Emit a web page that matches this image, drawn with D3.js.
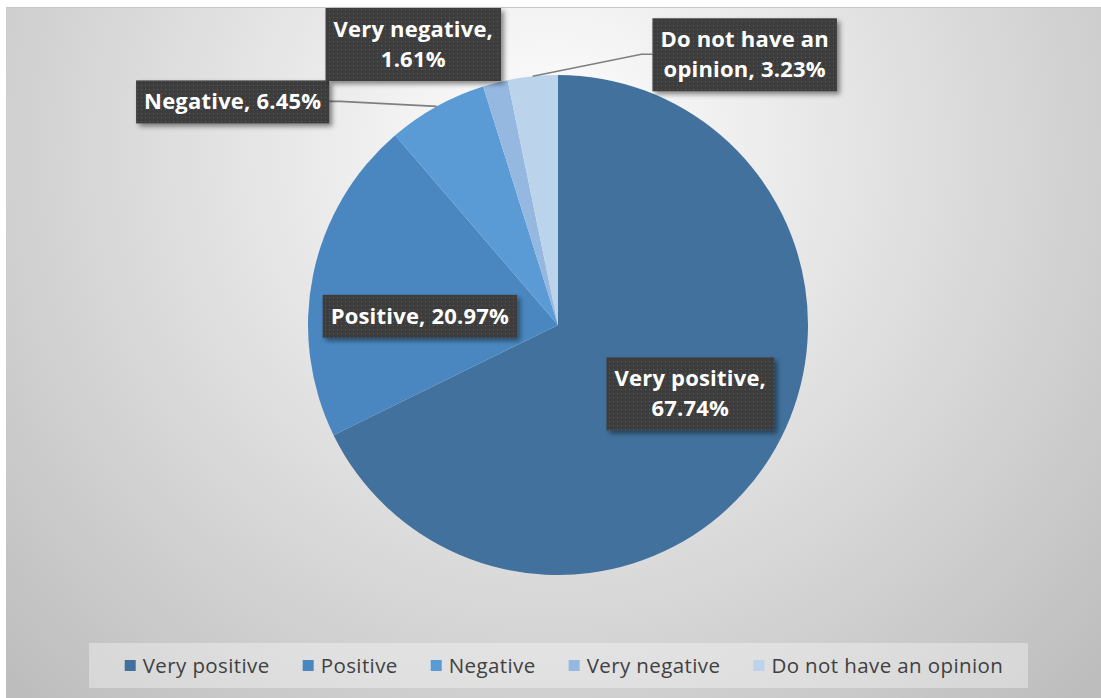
<!DOCTYPE html>
<html>
<head>
<meta charset="utf-8">
<script src="https://cdn.jsdelivr.net/npm/d3@7"></script>
<style>
  body { margin: 0; background: #ffffff; }
  svg { display: block; }
</style>
</head>
<body>
<div class="chart"></div>
<script>
//Data
var categories = ["Very positive", "Positive", "Negative", "Very negative", "Do not have an opinion"];
var values = [67.74, 20.97, 6.45, 1.61, 3.23];
var colors = ["#41719c", "#4a87c0", "#5b9bd5", "#95b8e0", "#bcd3ec"];

//Config
var width = 1101,
    height = 698,
    frame = { left : 6, top : 7 },
    cx = 558,
    cy = 325,
    radius = 250;

// label placement: radius factor of anchor, pixel nudge, wrap width
var labelLayout = [
  { lr : 0.6, dx : 5, dy : -11, wrap : 172, leader : false },
  { lr : 0.56, dx : -1, dy : 19, wrap : 280, leader : false },
  { lr : 1.0, dx : -204, dy : -5, wrap : 280, leader : true },
  { lr : 1.0, dx : -82, dy : -39, wrap : 185, leader : false },
  { lr : 1.0, dx : 212, dy : -22, wrap : 182, leader : true }
];

var svg = d3.select(".chart")
  .append("svg")
  .attr("width", width)
  .attr("height", height);

var defs = svg.append("defs");

var bg = defs.append("radialGradient")
  .attr("id", "bg")
  .attr("gradientUnits", "userSpaceOnUse")
  .attr("cx", 550).attr("cy", 150).attr("r", 760);
bg.append("stop").attr("offset", "0").attr("stop-color", "#ffffff");
bg.append("stop").attr("offset", "1").attr("stop-color", "#bdbdbd");

var dots = defs.append("pattern")
  .attr("id", "dots")
  .attr("patternUnits", "userSpaceOnUse")
  .attr("width", 4).attr("height", 4);
dots.append("rect").attr("width", 4).attr("height", 4).attr("fill", "#3d3d3d");
dots.append("rect").attr("x", 1).attr("y", 1).attr("width", 1).attr("height", 1).attr("fill", "#5c5c5c");

var shadow = defs.append("filter")
  .attr("id", "shadow")
  .attr("x", "-20%").attr("y", "-30%").attr("width", "140%").attr("height", "170%");
shadow.append("feDropShadow")
  .attr("dx", 3).attr("dy", 3).attr("stdDeviation", 2.5)
  .attr("flood-color", "#000").attr("flood-opacity", 0.45);

//Background
svg.append("rect")
  .attr("x", frame.left).attr("y", frame.top)
  .attr("width", width - frame.left).attr("height", height - frame.top)
  .attr("fill", "url(#bg)");
svg.append("line")
  .attr("x1", frame.left).attr("x2", width)
  .attr("y1", frame.top + 0.5).attr("y2", frame.top + 0.5)
  .attr("stroke", "#c8c8c8");

//Pie
var pie = d3.pie().sort(null).value(function (d) { return d; });
var arcs = pie(values);
var arc = d3.arc().innerRadius(0).outerRadius(radius);

var gpie = svg.append("g").attr("transform", "translate(" + cx + "," + cy + ")");

gpie.selectAll(".slice")
  .data(arcs)
  .enter()
  .append("path")
  .classed("slice", true)
  .attr("d", arc)
  .attr("fill", function (d, i) { return colors[i]; });

function polar(angle, r) {
  return [Math.sin(angle) * r, -Math.cos(angle) * r];
}

//Labels
var glabels = svg.append("g");

arcs.forEach(function (d, i) {
  var lay = labelLayout[i];
  var mid = (d.startAngle + d.endAngle) / 2;
  var p = polar(mid, radius * lay.lr);
  var lx = cx + p[0] + lay.dx,
      ly = cy + p[1] + lay.dy;

  var text = categories[i] + ", " + d3.format(".2f")(values[i]) + "%";

  var g = glabels.append("g");
  var box = g.append("rect")
    .attr("fill", "url(#dots)")
    .attr("filter", "url(#shadow)");

  var t = g.append("text")
    .attr("text-anchor", "middle")
    .style("font-family", "'Open Sans', sans-serif")
    .style("font-weight", "bold")
    .style("font-size", "22px")
    .style("letter-spacing", "0.2px")
    .attr("fill", "#ffffff");

  // simple word wrap
  var words = text.split(" "), lines = [], line = "";
  words.forEach(function (w) {
    var test = line ? line + " " + w : w;
    t.text(test);
    if (line && t.node().getComputedTextLength() > lay.wrap) {
      lines.push(line);
      line = w;
    } else {
      line = test;
    }
  });
  lines.push(line);
  t.text(null);

  var lh = 30;
  lines.forEach(function (l, k) {
    t.append("tspan")
      .attr("x", lx)
      .attr("y", ly + (k - (lines.length - 1) / 2) * lh + 8)
      .text(l);
  });

  var bb = t.node().getBBox();
  var padX = 8, padY = 7;
  box.attr("x", bb.x - padX)
    .attr("y", ly - (lines.length * lh) / 2 - padY + 1)
    .attr("width", bb.width + padX * 2)
    .attr("height", lines.length * lh + padY * 2 - 1);

  if (lay.leader) {
    var a = polar(mid, radius);
    var ax = cx + a[0], ay = cy + a[1];
    var bx = +box.attr("x"), bw = +box.attr("width");
    var edge = lx > ax ? bx : bx + bw;
    var elbow = lx > ax ? edge - 11 : edge + 11;
    glabels.insert("path", ":first-child")
      .attr("d", "M" + ax + "," + ay + "L" + elbow + "," + ly + "L" + edge + "," + ly)
      .attr("fill", "none")
      .attr("stroke", "#7f7f7f")
      .attr("stroke-width", 1.6);
  }
});

//Legend
var legend = svg.append("g");
legend.append("rect")
  .attr("x", 89).attr("y", 643)
  .attr("width", 939).attr("height", 45)
  .attr("fill", "#ffffff")
  .attr("fill-opacity", 0.35);

var items = legend.selectAll(".item")
  .data(categories)
  .enter()
  .append("g")
  .classed("item", true);

items.append("rect")
  .attr("width", 11).attr("height", 11)
  .attr("y", 660)
  .attr("fill", function (d, i) { return colors[i]; });

items.append("text")
  .attr("y", 673)
  .style("font-family", "'Open Sans', sans-serif")
  .style("font-size", "20.5px")
  .style("letter-spacing", "0.4px")
  .attr("fill", "#404040")
  .text(function (d) { return d; });

var widths = [];
items.select("text").each(function () { widths.push(this.getComputedTextLength()); });
var gap = 33, sw = 18;
var total = d3.sum(widths) + widths.length * sw + (widths.length - 1) * gap;
var xpos = 564 - total / 2;
items.each(function (d, i) {
  d3.select(this).attr("transform", "translate(" + xpos + ",0)");
  d3.select(this).select("text").attr("x", sw);
  xpos += sw + widths[i] + gap;
});
</script>
</body>
</html>
